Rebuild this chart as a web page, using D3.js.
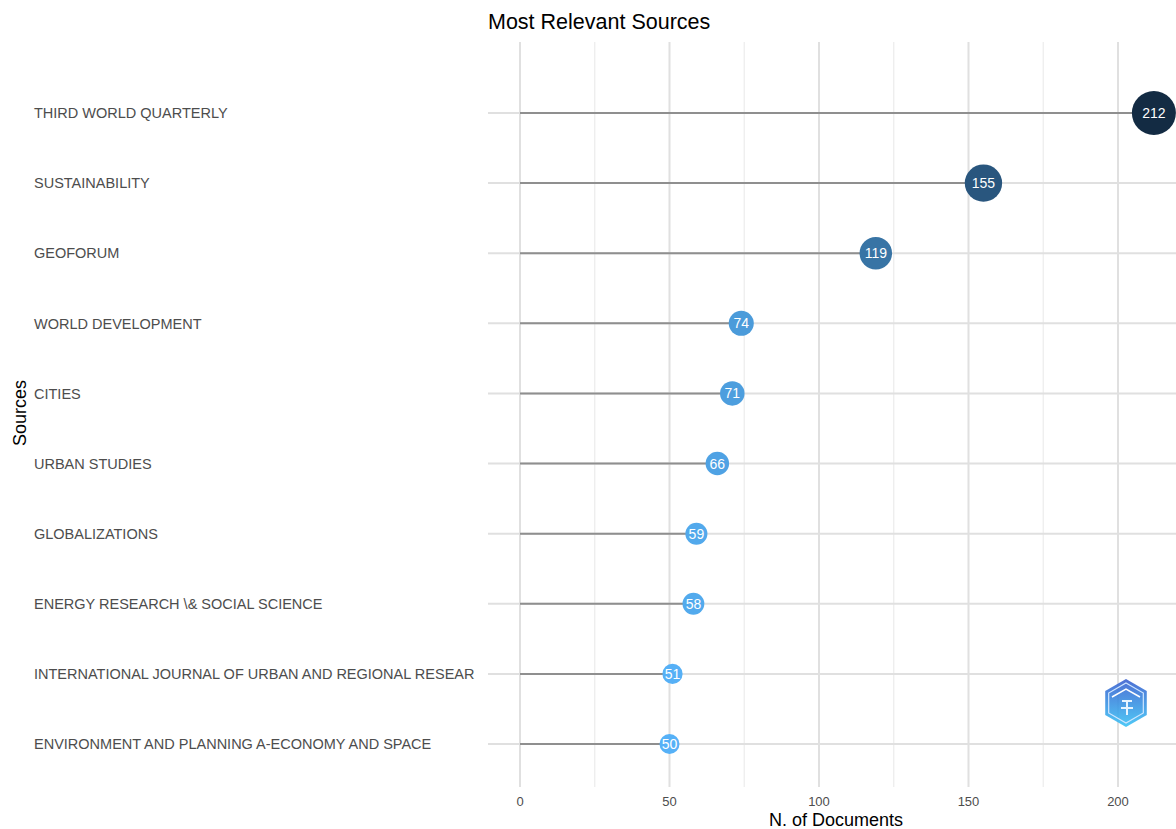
<!DOCTYPE html>
<html><head><meta charset="utf-8">
<script src="https://cdn.jsdelivr.net/npm/d3@7"></script>
<style>body{margin:0;background:#fff;}svg{display:block;font-family:"Liberation Sans",Arial,Helvetica,sans-serif;}</style>
</head><body>
<script>
const sources = ["THIRD WORLD QUARTERLY","SUSTAINABILITY","GEOFORUM","WORLD DEVELOPMENT","CITIES","URBAN STUDIES","GLOBALIZATIONS","ENERGY RESEARCH \\& SOCIAL SCIENCE","INTERNATIONAL JOURNAL OF URBAN AND REGIONAL RESEAR","ENVIRONMENT AND PLANNING A-ECONOMY AND SPACE"];
const documents = [212,155,119,74,71,66,59,58,51,50];
const xTicks = [0,50,100,150,200];
const xMinor = [25,75,125,175];

const W = 1176, H = 829;
const svg = d3.select("body").append("svg").attr("width", W).attr("height", H);

const panel = {left: 488, top: 42, bottom: 787};
const x = d3.scaleLinear().domain([0, 200]).range([520, 1118]);
const y = d3.scalePoint().domain(sources).range([113, 744]);
const rMin = 10, rMax = 22;
const vMin = d3.min(documents), vMax = d3.max(documents);
const r = v => Math.sqrt(rMin*rMin + (v - vMin)/(vMax - vMin)*(rMax*rMax - rMin*rMin));
const color = d3.scaleLinear().domain([vMin, vMax]).range(["#56B1F7", "#132B43"]).interpolate(d3.interpolateLab);

const g = svg.append("g");
g.selectAll(".minor").data(xMinor).join("line")
  .attr("x1", d => x(d)).attr("x2", d => x(d))
  .attr("y1", panel.top).attr("y2", panel.bottom)
  .attr("stroke", "#ececec").attr("stroke-width", 1.2);
g.selectAll(".major").data(xTicks).join("line")
  .attr("x1", d => x(d)).attr("x2", d => x(d))
  .attr("y1", panel.top).attr("y2", panel.bottom)
  .attr("stroke", "#e0e0e0").attr("stroke-width", 2);
g.selectAll(".hgrid").data(sources).join("line")
  .attr("x1", panel.left).attr("x2", W)
  .attr("y1", d => y(d)).attr("y2", d => y(d))
  .attr("stroke", "#e0e0e0").attr("stroke-width", 2);

const data = sources.map((s, i) => ({s, v: documents[i]}));
g.selectAll(".seg").data(data).join("line")
  .attr("x1", x(0)).attr("x2", d => x(d.v))
  .attr("y1", d => y(d.s)).attr("y2", d => y(d.s))
  .attr("stroke", "#8f8f8f").attr("stroke-width", 2);
g.selectAll(".pt").data(data).join("circle")
  .attr("cx", d => x(d.v)).attr("cy", d => y(d.s)).attr("r", d => r(d.v))
  .attr("fill", d => color(d.v));
g.selectAll(".lbl").data(data).join("text")
  .attr("x", d => x(d.v)).attr("y", d => y(d.s)).attr("dy", "0.36em")
  .attr("text-anchor", "middle").attr("fill", "#fff").attr("font-size", 14)
  .text(d => d.v);

svg.append("g").selectAll("text").data(sources).join("text")
  .attr("x", 34).attr("y", d => y(d)).attr("dy", "0.36em")
  .attr("fill", "#4d4d4d").attr("font-size", 14.5).text(d => d);

svg.append("g").selectAll("text").data(xTicks).join("text")
  .attr("x", d => x(d)).attr("y", 806).attr("text-anchor", "middle")
  .attr("fill", "#4d4d4d").attr("font-size", 13).text(d => d);

svg.append("text").attr("x", 836).attr("y", 826).attr("text-anchor", "middle")
  .attr("fill", "#000").attr("font-size", 18).text("N. of Documents");
svg.append("text").attr("transform", "translate(26,413) rotate(-90)").attr("text-anchor", "middle")
  .attr("fill", "#000").attr("font-size", 18).text("Sources");
svg.append("text").attr("x", 488).attr("y", 29).attr("fill", "#000").attr("font-size", 21.5)
  .text("Most Relevant Sources");

// logo (hexagon badge)
const defs = svg.append("defs");
const lg = defs.append("linearGradient").attr("id", "lg").attr("x1", 0).attr("y1", 0).attr("x2", 0).attr("y2", 1);
lg.append("stop").attr("offset", "0%").attr("stop-color", "#3a5fcf");
lg.append("stop").attr("offset", "100%").attr("stop-color", "#3cc3f5");
const cx = 1126, cy = 703, R = 24;
const hex = d3.range(6).map(i => { const a = Math.PI/3*i - Math.PI/2; return [cx + R*Math.cos(a), cy + R*Math.sin(a)]; });
svg.append("path").attr("d", "M" + hex.join("L") + "Z").attr("fill", "url(#lg)").attr("opacity", 0.9);
const hex2 = d3.range(6).map(i => { const a = Math.PI/3*i - Math.PI/2; return [cx + (R-4)*Math.cos(a), cy + (R-4)*Math.sin(a)]; });
svg.append("path").attr("d", "M" + hex2.join("L") + "Z").attr("fill", "none").attr("stroke", "#cfe6ff").attr("stroke-width", 1.2);
svg.append("path").attr("d", `M${cx-14},${cy-6}L${cx},${cy-14}L${cx+14},${cy-6}`).attr("fill", "none").attr("stroke", "#fff").attr("stroke-width", 1.5);
svg.append("path").attr("d", `M${cx-4},${cy-2}L${cx+6},${cy-2}M${cx+1},${cy-2}L${cx+1},${cy+12}M${cx-5},${cy+5}L${cx+7},${cy+5}`).attr("fill", "none").attr("stroke", "#e8f4ff").attr("stroke-width", 2);
</script>
</body></html>
